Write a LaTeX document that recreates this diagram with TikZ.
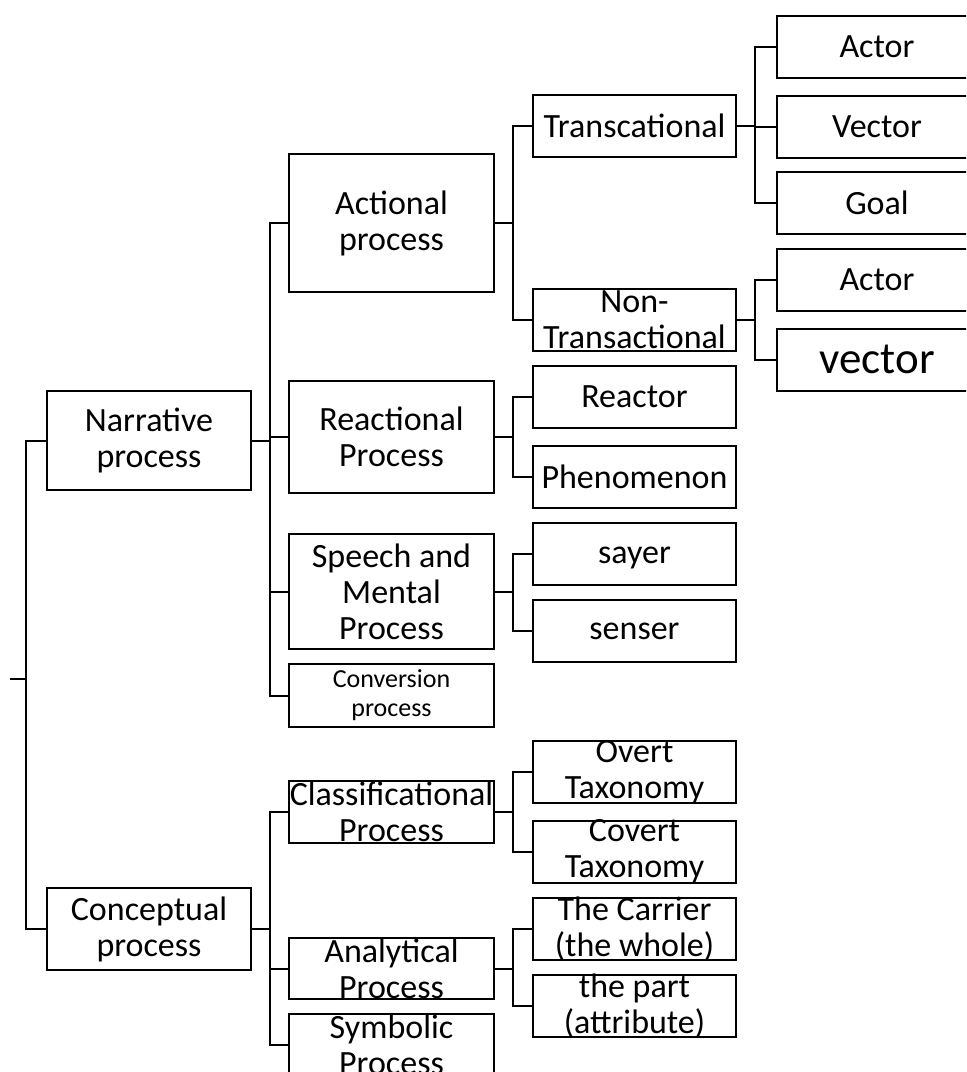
\documentclass[tikz,border=0pt]{standalone}
\usepackage{fontspec}
\setmainfont{Carlito}
\tikzset{
    box/.style={rectangle, draw=black, line width=1pt, inner sep=0pt, outer sep=0pt, minimum height=31pt},
    level1/.style={box, minimum width=102pt},
    level2/.style={box, minimum width=102.5pt},
    level3/.style={box, minimum width=101.5pt},
    level4/.style={box, minimum width=100pt},
    every label/.style={align=center, inner sep=0pt, font=\fontsize{17}{18}\selectfont},
    elbow/.style={line width=1pt, to path={-- ++(#1,0) |- (\tikztotarget)}},
    elbow/.default=19
}

\begin{document}
\begin{tikzpicture}[x=0.5pt, y=-0.5pt]
\useasboundingbox (0,0) rectangle (966,1072);
\clip (0,0) rectangle (966,1072);

% Level 1
\node[level1, minimum height=49.5pt, label={center:Narrative\\process}] (nar) at (149,440.5) {};
\node[level1, minimum height=41pt, label={center:Conceptual\\process}] (con) at (149,929) {};

% Level 2
\node[level2, minimum height=69pt, label={center:Actional\\process}] (act) at (391.5,223) {};
\node[level2, minimum height=56pt, label={center:Reactional\\Process}] (rea) at (391.5,437) {};
\node[level2, minimum height=57.5pt, label={center:Speech and\\Mental\\Process}] (spe) at (391.5,591.5) {};
\node[level2, minimum height=31.5pt, label={[font=\fontsize{13}{14.5}\selectfont]center:Conversion\\process}] (cnv) at (391.5,695.5) {};
\node[level2, label={center:Classificational\\Process}] (cla) at (391.5,812) {};
\node[level2, minimum height=30.5pt, label={center:Analytical\\Process}] (ana) at (391.5,968.5) {};
\node[level2, label={center:Symbolic\\Process}] (sym) at (391.5,1045) {};

% Level 3
\node[level3, label={center:Transcational}] (tra) at (634.5,126) {};
\node[level3, label={center:Non-\\Transactional}] (non) at (634.5,320) {};
\node[level3, label={center:Reactor}] (rct) at (634.5,397) {};
\node[level3, label={center:Phenomenon}] (phe) at (634.5,477) {};
\node[level3, label={[yshift=-2pt]center:sayer}] (say) at (634.5,554) {};
\node[level3, label={center:senser}] (sen) at (634.5,631) {};
\node[level3, label={center:Overt\\Taxonomy}] (ove) at (634.5,772) {};
\node[level3, label={center:Covert\\Taxonomy}] (cov) at (634.5,851.5) {};
\node[level3, label={center:The Carrier\\(the whole)}] (car) at (634.5,929) {};
\node[level3, label={center:the part\\(attribute)}] (prt) at (634.5,1006) {};

% Level 4
\node[level4, label={center:Actor}] (ac1) at (877,47) {};
\node[level4, label={center:Vector}] (vc1) at (877,126.5) {};
\node[level4, label={center:Goal}] (goa) at (877,203) {};
\node[level4, label={center:Actor}] (ac2) at (877,280) {};
\node[level4, label={[font=\fontsize{22.5}{24}\selectfont]center:vector}] (vc2) at (877,359.5) {};

% Connectors
\coordinate (root) at (10,679);
\foreach \c in {nar,con} \draw[elbow=16] (root) to (\c.west);
\foreach \c in {act,rea,spe,cnv} \draw[elbow] (nar.east) to (\c.west);
\foreach \c in {cla,ana,sym} \draw[elbow] (con.east) to (\c.west);
\foreach \c in {tra,non} \draw[elbow] (act.east) to (\c.west);
\foreach \c in {rct,phe} \draw[elbow] (rea.east) to (\c.west);
\foreach \c in {say,sen} \draw[elbow] (spe.east) to (\c.west);
\foreach \c in {ove,cov} \draw[elbow] (cla.east) to (\c.west);
\foreach \c in {car,prt} \draw[elbow] (ana.east) to (\c.west);
\foreach \c in {ac1,vc1,goa} \draw[elbow] (tra.east) to (\c.west);
\foreach \c in {ac2,vc2} \draw[elbow] (non.east) to (\c.west);

\end{tikzpicture}
\end{document}
